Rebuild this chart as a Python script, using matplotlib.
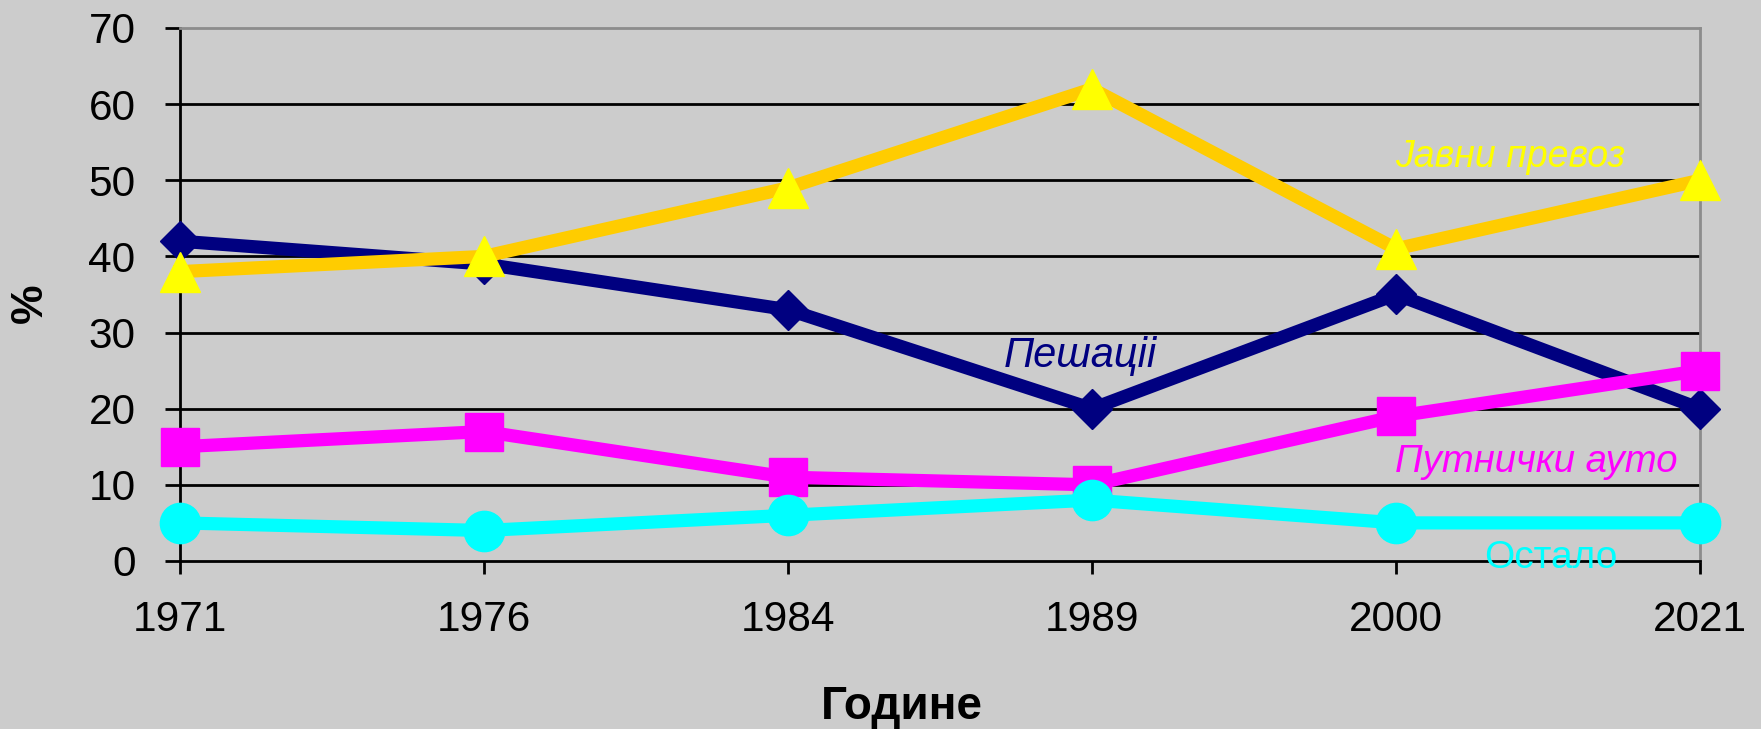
"""Modal split chart (Serbian labels), recreated with matplotlib."""

import matplotlib
matplotlib.use("Agg")
import matplotlib.pyplot as plt
import numpy as np

plt.rcParams["font.family"] = ["Liberation Sans", "DejaVu Sans"]

years = ["1971", "1976", "1984", "1989", "2000", "2021"]
pesaci = [42, 39, 33, 20, 35, 20]
javni_prevoz = [38, 40, 49, 62, 41, 50]
putnicki_auto = [15, 17, 11, 10, 19, 25]
ostalo = [5, 4, 6, 8, 5, 5]

BG = "#cccccc"
NAVY = "#000080"
GOLD = "#ffcc00"
YELLOW = "#ffff00"
MAGENTA = "#ff00ff"
CYAN = "#00ffff"

fig = plt.figure(figsize=(17.61, 7.29), dpi=100)
fig.patch.set_facecolor(BG)
ax = fig.add_axes([0.1022, 0.2305, 0.8632, 0.7311])
ax.set_facecolor(BG)

x = np.arange(len(years))
lw = 9.5

ax.plot(x, pesaci, color=NAVY, lw=lw, marker="D", ms=20.5,
        mfc=NAVY, mec=NAVY, clip_on=False, zorder=3)
ax.plot(x, javni_prevoz, color=GOLD, lw=lw, marker="^", ms=29,
        mfc=YELLOW, mec=YELLOW, clip_on=False, zorder=4)
ax.plot(x, putnicki_auto, color=MAGENTA, lw=lw, marker="s", ms=28,
        mfc=MAGENTA, mec=MAGENTA, clip_on=False, zorder=5)
ax.plot(x, ostalo, color=CYAN, lw=lw, marker="o", ms=29,
        mfc=CYAN, mec=CYAN, clip_on=False, zorder=6)

# series labels
ax.text(4.375, 51.8, "Јавни превоз", color=YELLOW, fontsize=27,
        style="italic", ha="center", va="baseline", zorder=7)
ax.text(2.96, 25.5, "Пешаціі", color=NAVY, fontsize=30,
        style="italic", ha="center", va="baseline", zorder=7)
ax.text(4.46, 11.7, "Путнички ауто", color=MAGENTA, fontsize=27.5,
        style="italic", ha="center", va="baseline", zorder=7)
ax.text(4.51, -0.9, "Остало", color=CYAN, fontsize=28,
        ha="center", va="baseline", zorder=7)

ax.set_xlim(0, len(years) - 1)
ax.set_ylim(0, 70)
ax.set_xticks(x)
ax.set_xticklabels(years)
ax.set_yticks(np.arange(0, 71, 10))

for y in range(10, 70, 10):
    ax.axhline(y, color="black", lw=2, zorder=1)

for side in ["left", "bottom"]:
    ax.spines[side].set_color("black")
    ax.spines[side].set_linewidth(2)
for side in ["top", "right"]:
    ax.spines[side].set_color("#8c8c8c")
    ax.spines[side].set_linewidth(2)

ax.tick_params(axis="y", direction="out", length=11, width=2,
               labelsize=30.5, pad=21)
ax.tick_params(axis="x", direction="out", length=9, width=2,
               labelsize=30.5, pad=19)

ax.set_xlabel("Године", fontsize=33, fontweight="bold", va="center")
ax.xaxis.set_label_coords(0.475, -0.274)
ax.set_ylabel("%", fontsize=32, fontweight="bold", rotation=90,
              ha="center", va="center")
ax.yaxis.set_label_coords(-0.0987, 0.484)

fig.savefig("out.png", dpi=100, facecolor=BG)
